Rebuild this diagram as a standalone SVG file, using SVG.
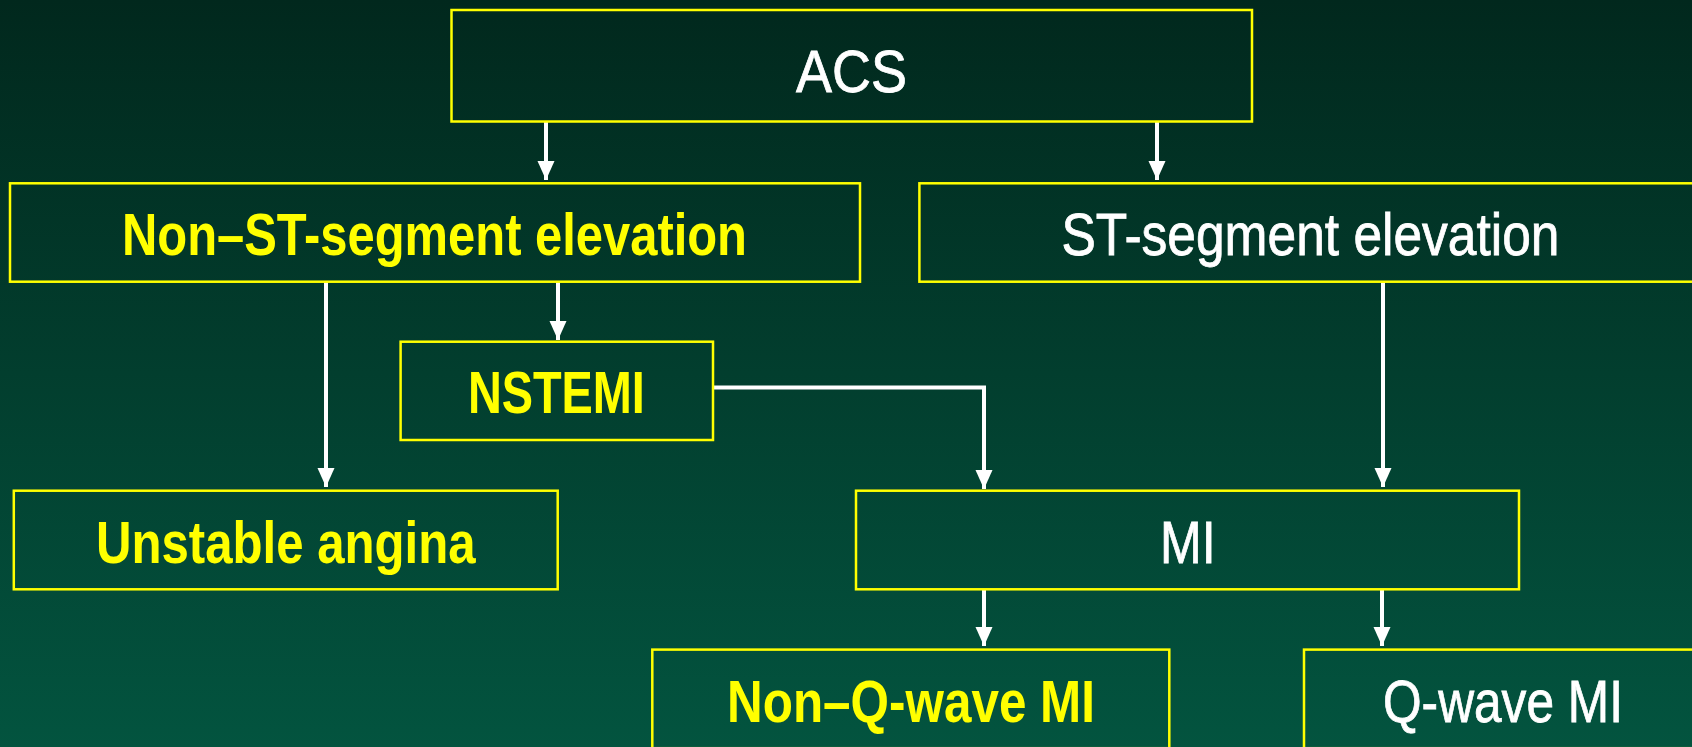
<svg xmlns="http://www.w3.org/2000/svg" width="1692" height="747" viewBox="0 0 1692 747">
<defs>
<linearGradient id="bg" x1="0" y1="0" x2="0" y2="1">
<stop offset="0" stop-color="#01281d"/>
<stop offset="1" stop-color="#03543f"/>
</linearGradient>
<marker id="ah" markerUnits="userSpaceOnUse" markerWidth="20" markerHeight="20" viewBox="0 0 20 20" refX="19" refY="10" orient="auto">
<path d="M0,1.5 L19,10 L0,18.5 Z" fill="#ffffff"/>
</marker>
<style>
.box{fill:none;stroke:#ffff00;stroke-width:2.5}
.ln{fill:none;stroke:#ffffff;stroke-width:4}
.y{fill:#ffff00;font-family:"Liberation Sans",Arial,sans-serif;font-weight:bold;font-size:60px;text-anchor:middle}
.w{fill:#ffffff;stroke:#ffffff;stroke-width:0.8;font-family:"Liberation Sans",Arial,sans-serif;font-size:60px;text-anchor:middle}
</style>
</defs>
<rect x="0" y="0" width="1692" height="747" fill="url(#bg)"/>
<g id="connectors">
<path class="ln" d="M546,122 V180" marker-end="url(#ah)"/>
<path class="ln" d="M1157,122 V180" marker-end="url(#ah)"/>
<path class="ln" d="M326,282 V487" marker-end="url(#ah)"/>
<path class="ln" d="M558,282 V340" marker-end="url(#ah)"/>
<path class="ln" d="M713,387.5 H984 V489" marker-end="url(#ah)"/>
<path class="ln" d="M1383,282 V487" marker-end="url(#ah)"/>
<path class="ln" d="M984,590 V646" marker-end="url(#ah)"/>
<path class="ln" d="M1382,590 V646" marker-end="url(#ah)"/>
</g>
<g id="acs">
<rect class="box" x="451.5" y="10" width="800.5" height="111.5"/>
<text class="w" x="851.5" y="91.7" font-size="70" textLength="111" lengthAdjust="spacingAndGlyphs">ACS</text>
</g>
<g id="non-st">
<rect class="box" x="10" y="183.3" width="850" height="98.4"/>
<text class="y" x="434.5" y="255" textLength="625" lengthAdjust="spacingAndGlyphs">Non–ST-segment elevation</text>
</g>
<g id="st">
<rect class="box" x="919.4" y="183.3" width="782" height="98.4"/>
<text class="w" x="1310.5" y="255" textLength="498" lengthAdjust="spacingAndGlyphs">ST-segment elevation</text>
</g>
<g id="nstemi">
<rect class="box" x="400.6" y="341.7" width="312.4" height="98.3"/>
<text class="y" x="556.4" y="413.3" textLength="177" lengthAdjust="spacingAndGlyphs">NSTEMI</text>
</g>
<g id="unstable">
<rect class="box" x="13.8" y="490.7" width="543.9" height="98.6"/>
<text class="y" x="285.8" y="563.3" textLength="379.5" lengthAdjust="spacingAndGlyphs">Unstable angina</text>
</g>
<g id="mi">
<rect class="box" x="856" y="490.7" width="663" height="98.6"/>
<text class="w" x="1187.8" y="563.3" textLength="55.6" lengthAdjust="spacingAndGlyphs">MI</text>
</g>
<g id="non-q">
<rect class="box" x="652.3" y="649.6" width="517" height="98.6"/>
<text class="y" x="911" y="721.7" textLength="368" lengthAdjust="spacingAndGlyphs">Non–Q-wave MI</text>
</g>
<g id="q-wave">
<rect class="box" x="1304" y="649.6" width="398" height="98.6"/>
<text class="w" x="1503" y="721.7" textLength="240" lengthAdjust="spacingAndGlyphs">Q-wave MI</text>
</g>
</svg>
